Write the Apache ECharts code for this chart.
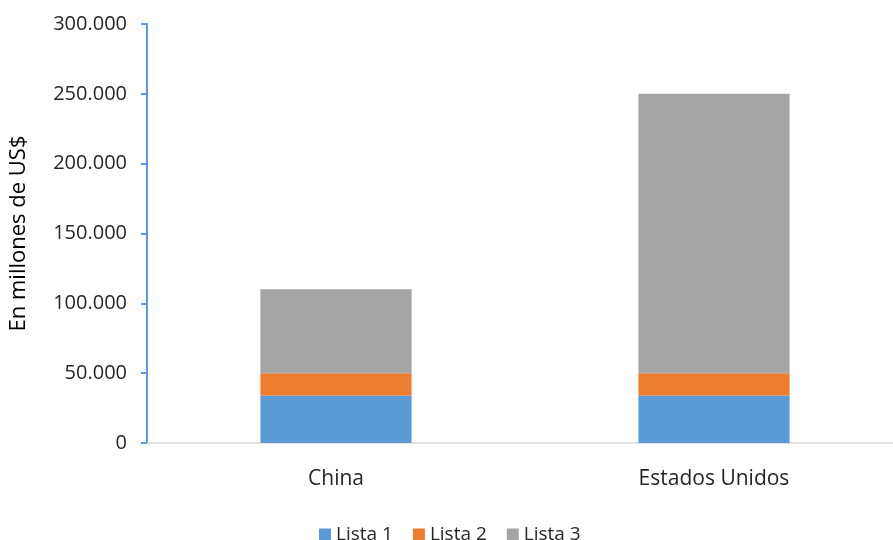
<!DOCTYPE html>
<html><head><meta charset="utf-8">
<script src="https://cdn.jsdelivr.net/npm/echarts@6/dist/echarts.min.js"></script>
<style>html,body{margin:0;padding:0;background:#fff}#c{width:893px;height:540px}</style>
</head><body><div id="c"></div>
<script>
const categories = ["China", "Estados Unidos"];
const lista1 = [34000, 34000];
const lista2 = [16000, 16000];
const lista3 = [60000, 200000];
const seriesNames = ["Lista 1", "Lista 2", "Lista 3"];
const colors = ["#5B9BD5", "#ED7D31", "#A5A5A5"];
const yTicks = { min: 0, max: 300000, interval: 50000 };
const yName = "En millones de US$";

const FONT = "Open Sans";
function fmt(v){ return String(v).replace(/\B(?=(\d{3})+(?!\d))/g, "."); }

const chart = echarts.init(document.getElementById('c'));
const data = [lista1, lista2, lista3];
chart.setOption({
  animation: false,
  color: colors,
  textStyle: { fontFamily: FONT },
  grid: { left: 147, right: -10, top: 24, bottom: 97, containLabel: false, outerBoundsMode: 'none' },
  legend: {
    top: 520, left: 314, itemWidth: 12, itemHeight: 12, itemGap: 20,
    icon: 'rect',
    textStyle: { fontFamily: FONT, fontSize: 19, color: '#262626' },
    data: seriesNames
  },
  xAxis: {
    type: 'category', data: categories,
    axisLine: { lineStyle: { color: '#D9D9D9', width: 1.5 } },
    axisTick: { show: false },
    axisLabel: { fontFamily: FONT, fontSize: 21, color: '#262626', margin: 26 }
  },
  yAxis: {
    type: 'value', min: yTicks.min, max: yTicks.max, interval: yTicks.interval,
    name: yName, nameLocation: 'middle', nameGap: 117, nameRotate: 90,
    nameTextStyle: { fontFamily: FONT, fontSize: 22, color: '#000' },
    axisLine: { show: true, lineStyle: { color: '#5B9BD5', width: 2 } },
    axisTick: { show: true, inside: false, length: 6, lineStyle: { color: '#5B9BD5', width: 2 } },
    splitLine: { show: false },
    axisLabel: { fontFamily: FONT, fontSize: 20, color: '#262626', margin: 20, formatter: fmt }
  },
  series: seriesNames.map((n, i) => ({
    name: n, type: 'bar', stack: 'total', data: data[i], barWidth: '40%'
  }))
});
</script></body></html>
